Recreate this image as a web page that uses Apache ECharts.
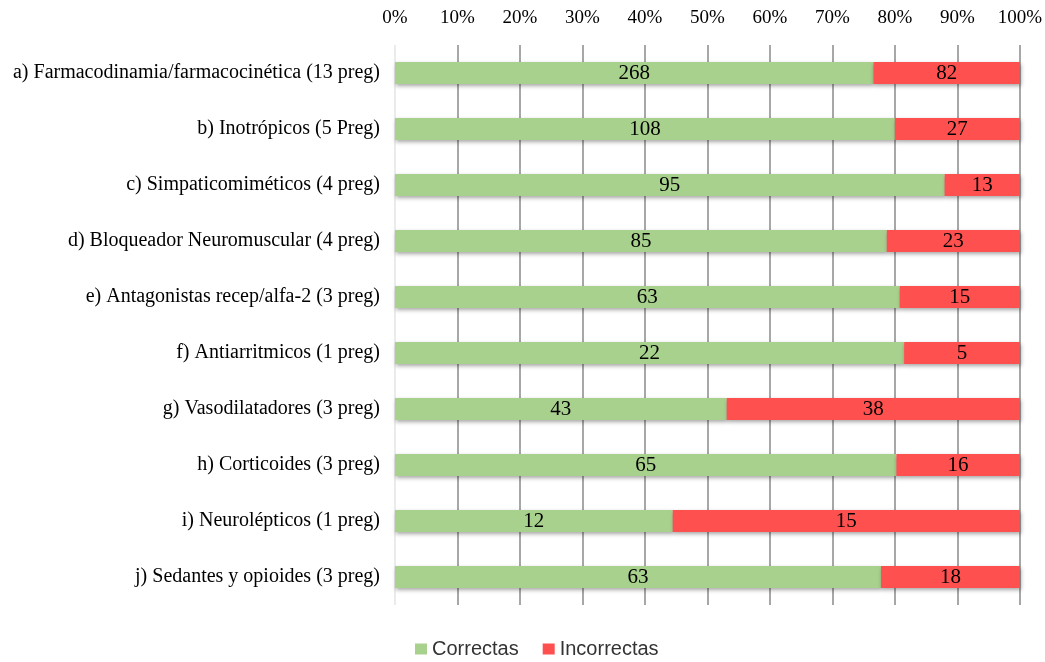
<!DOCTYPE html>
<html>
<head>
<meta charset="utf-8">
<script src="https://cdn.jsdelivr.net/npm/echarts@6/dist/echarts.min.js"></script>
<style>
  html, body { margin: 0; padding: 0; background: #fff; }
  #chart { width: 1045px; height: 662px; }
</style>
</head>
<body>
<div id="chart"></div>
<script>
const categories = [
  'a) Farmacodinamia/farmacocinética (13 preg)',
  'b) Inotrópicos (5 Preg)',
  'c) Simpaticomiméticos (4 preg)',
  'd) Bloqueador Neuromuscular (4 preg)',
  'e) Antagonistas recep/alfa-2 (3 preg)',
  'f) Antiarritmicos (1 preg)',
  'g) Vasodilatadores (3 preg)',
  'h) Corticoides (3 preg)',
  'i) Neurolépticos (1 preg)',
  'j) Sedantes y opioides (3 preg)'
]
const correctas = [268, 108, 95, 85, 63, 22, 43, 65, 12, 63]
const incorrectas = [82, 27, 13, 23, 15, 5, 38, 16, 15, 18]

// share of each row, so the stack fills 100%
const share = (arr) => arr.map((v, i) => ({
  value: v / (correctas[i] + incorrectas[i]) * 100,
  raw: v
}))

const chart = echarts.init(document.getElementById('chart'))

const barShadow = {
  shadowBlur: 4,
  shadowOffsetX: 1,
  shadowOffsetY: 2,
  shadowColor: 'rgba(0,0,0,0.35)'
}

const labelStyle = {
  show: true,
  position: 'inside',
  fontFamily: 'Liberation Serif',
  fontSize: 21,
  color: '#000',
  formatter: (p) => p.data.raw
}

const gridColors = ['#e4e4e4'].concat(new Array(10).fill('#8a8a8a'))

chart.setOption({
  animation: false,
  legend: {
    data: ['Correctas', 'Incorrectas'],
    left: 410,
    bottom: -2,
    itemWidth: 12,
    itemHeight: 11,
    itemGap: 24,
    icon: 'rect',
    textStyle: { fontFamily: 'Liberation Sans', fontSize: 20, color: '#333' }
  },
  grid: {
    left: 395,
    right: 25,
    top: 45,
    bottom: 57
  },
  xAxis: {
    type: 'value',
    position: 'top',
    min: 0,
    max: 100,
    interval: 10,
    axisLine: { show: false },
    axisTick: { show: false },
    axisLabel: {
      formatter: '{value}%',
      fontFamily: 'Liberation Serif',
      fontSize: 19,
      color: '#000',
      margin: 17
    },
    splitLine: {
      show: true,
      lineStyle: { color: gridColors, width: 1.5 }
    }
  },
  yAxis: {
    type: 'category',
    data: categories,
    inverse: true,
    axisLine: { show: false },
    axisTick: { show: false },
    axisLabel: {
      fontFamily: 'Liberation Serif',
      fontSize: 20,
      color: '#000',
      margin: 15
    }
  },
  series: [
    {
      name: 'Correctas',
      type: 'bar',
      stack: 'total',
      barWidth: 22,
      data: share(correctas),
      itemStyle: Object.assign({ color: '#a9d18e' }, barShadow),
      label: labelStyle
    },
    {
      name: 'Incorrectas',
      type: 'bar',
      stack: 'total',
      barWidth: 22,
      data: share(incorrectas),
      itemStyle: Object.assign({ color: '#ff5050' }, barShadow),
      label: labelStyle
    }
  ]
})

window.addEventListener('resize', () => chart.resize())
</script>
</body>
</html>
